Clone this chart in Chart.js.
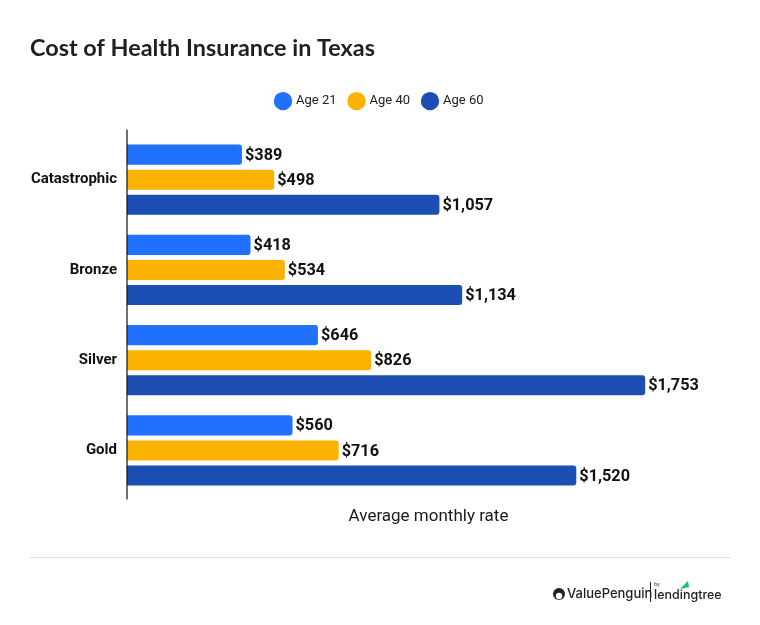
<!DOCTYPE html>
<html>
<head>
<meta charset="utf-8">
<script src="https://cdn.jsdelivr.net/npm/chart.js@4.4.1/dist/chart.umd.min.js"></script>
<style>
  html, body { margin: 0; padding: 0; background: #fff; }
  #wrap { width: 760px; height: 625px; }
</style>
</head>
<body>
<div id="wrap"><canvas id="costChart" width="760" height="625"></canvas></div>
<script>
const plans = ['Catastrophic', 'Bronze', 'Silver', 'Gold'];
const age21 = [389, 418, 646, 560];
const age40 = [498, 534, 826, 716];
const age60 = [1057, 1134, 1753, 1520];
const seriesNames = ['Age 21', 'Age 40', 'Age 60'];
const seriesColors = ['#2171ff', '#fbb200', '#1c4fb4'];

const fmt = v => '$' + v.toLocaleString('en-US');

// extra room under the legend
const legendGap = {
    id: 'legendGap',
    beforeInit(chart) {
        const fit = chart.legend.fit;
        chart.legend.fit = function () {
            fit.call(this);
            this.height += 17;
        };
    }
};

// value labels at the end of each bar
const barLabels = {
    id: 'barLabels',
    afterDatasetsDraw(chart) {
        const c = chart.ctx;
        c.save();
        c.font = 'bold 16.3px Roboto';
        c.fillStyle = '#111';
        c.textBaseline = 'middle';
        c.textAlign = 'left';
        chart.data.datasets.forEach((ds, i) => {
            chart.getDatasetMeta(i).data.forEach((bar, j) => {
                c.fillText(fmt(ds.data[j]), bar.x + 3, bar.y + 1);
            });
        });
        c.restore();
    }
};

// axis line, footer rule and logo
const extras = {
    id: 'extras',
    afterDraw(chart) {
        const c = chart.ctx;
        const a = chart.chartArea;
        c.save();
        c.strokeStyle = '#111';
        c.lineWidth = 1.2;
        c.beginPath();
        c.moveTo(a.left, a.top - 5);
        c.lineTo(a.left, a.bottom + 4);
        c.stroke();

        c.strokeStyle = '#dcdcdc';
        c.lineWidth = 1;
        c.beginPath();
        c.moveTo(30, 557.5);
        c.lineTo(730, 557.5);
        c.stroke();

        // logo
        c.fillStyle = '#222';
        c.beginPath();
        c.arc(559, 594, 6, 0, Math.PI * 2);
        c.fill();
        c.fillStyle = '#fff';
        c.beginPath();
        c.arc(559, 596, 3.2, 0, Math.PI * 2);
        c.fill();
        c.fillStyle = '#222';
        c.font = '500 13px Inter';
        c.textBaseline = 'middle';
        c.textAlign = 'left';
        c.fillText('ValuePenguin', 567, 594);
        c.fillRect(650, 582, 1, 20);
        c.font = '5px Inter';
        c.fillText('by', 654, 584);
        c.font = '500 12.5px Inter';
        c.fillText('lendingtree', 654, 595);
        c.fillStyle = '#1fbf6a';
        c.beginPath();
        c.moveTo(680, 589);
        c.lineTo(688, 581);
        c.lineTo(689, 587);
        c.closePath();
        c.fill();
        c.restore();
    }
};

new Chart(document.getElementById('costChart'), {
    type: 'bar',
    data: {
        labels: plans,
        datasets: [age21, age40, age60].map((d, i) => ({
            label: seriesNames[i],
            data: d,
            backgroundColor: seriesColors[i],
            borderRadius: { topRight: 3, bottomRight: 3, topLeft: 0, bottomLeft: 0 },
            borderSkipped: 'start',
            barPercentage: 0.8,
            categoryPercentage: 0.8333
        }))
    },
    options: {
        indexAxis: 'y',
        responsive: false,
        animation: false,
        layout: { padding: { left: 30, right: 30, top: 34, bottom: 98 } },
        plugins: {
            title: {
                display: true,
                text: 'Cost of Health Insurance in Texas',
                align: 'start',
                color: '#1f1f1f',
                font: { family: 'Lato', size: 23.4, weight: 'bold' },
                padding: { top: 0, bottom: 19 }
            },
            legend: {
                position: 'top',
                labels: {
                    usePointStyle: true,
                    pointStyle: 'circle',
                    boxWidth: 13,
                    boxHeight: 13,
                    padding: 13.5,
                    color: '#222',
                    font: { family: 'Roboto', size: 13 }
                }
            },
            tooltip: { enabled: false }
        },
        scales: {
            x: {
                min: 0,
                max: 2040,
                ticks: { display: false },
                grid: { display: false },
                border: { display: false },
                title: {
                    display: true,
                    text: 'Average monthly rate',
                    color: '#1a1a1a',
                    font: { family: 'Roboto', size: 17 },
                    padding: { top: 3, bottom: 0 }
                }
            },
            y: {
                grid: { display: false },
                border: { display: false },
                ticks: {
                    color: '#111',
                    padding: 2,
                    font: { family: 'Roboto', size: 15, weight: 'bold' }
                },
                afterFit(s) { s.width = 97; }
            }
        }
    },
    plugins: [legendGap, barLabels, extras]
});
</script>
</body>
</html>
